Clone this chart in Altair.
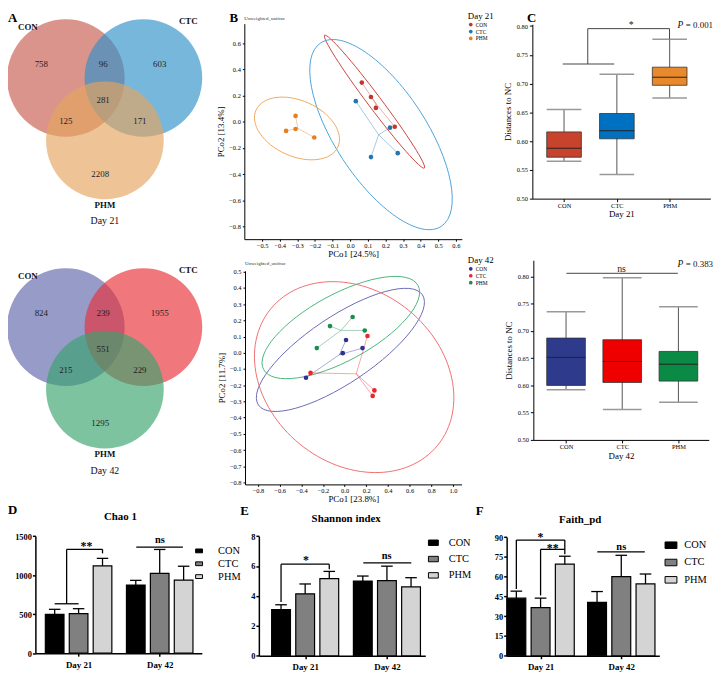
import altair as alt
import pandas as pd

OFF = 8            # page margin: reference pixel -> chart pixel
W, H = 714, 670
FONT = "Liberation Serif"


def cx(v):
    return v - OFF


# =========================== DATA ===========================
groups = ["CON", "CTC", "PHM"]
days = ["Day 21", "Day 42"]

# A - Venn diagrams (OTU counts per region)
venn_regions = ["CON", "CON&CTC", "CTC", "CON&CTC&PHM", "CON&PHM", "CTC&PHM", "PHM"]
venn21_counts = [758, 96, 603, 281, 125, 171, 2208]
venn42_counts = [824, 239, 1955, 551, 215, 229, 1295]

# B - PCoA of unweighted UniFrac
pcoa_group = ["CON"] * 4 + ["CTC"] * 4 + ["PHM"] * 4
pcoa21_pc1 = [0.066, 0.118, 0.146, 0.253, 0.032, 0.226, 0.270, 0.118, -0.310, -0.310, -0.364, -0.204]
pcoa21_pc2 = [0.300, 0.190, 0.106, -0.038, 0.158, -0.045, -0.240, -0.270, 0.045, -0.055, -0.070, -0.120]
pcoa42_pc1 = [0.013, -0.017, 0.165, -0.357, 0.211, -0.315, 0.275, 0.259, 0.074, -0.135, 0.186, -0.257]
pcoa42_pc2 = [0.079, -0.002, 0.029, -0.154, 0.104, -0.124, -0.232, -0.266, 0.221, 0.165, 0.138, 0.029]
ell21_pc1 = [0.138, 0.175, -0.302]
ell21_pc2 = [0.154, -0.098, -0.051]
ell42_pc1 = [-0.039, 0.088, -0.035]
ell42_pc2 = [0.018, -0.150, 0.156]
pcoa21_xticks = [-0.5, -0.4, -0.3, -0.2, -0.1, 0.0, 0.1, 0.2, 0.3, 0.4, 0.5, 0.6]
pcoa21_yticks = [-0.8, -0.6, -0.4, -0.2, 0.0, 0.2, 0.4, 0.6]
pcoa42_xticks = [-0.8, -0.6, -0.4, -0.2, 0.0, 0.2, 0.4, 0.6, 0.8, 1.0]
pcoa42_yticks = [-0.8, -0.7, -0.6, -0.5, -0.4, -0.3, -0.2, -0.1, 0.0, 0.1, 0.2, 0.3, 0.4, 0.5]

# C - distances to NC (box statistics)
d21_min = [0.565, 0.542, 0.675]
d21_q1 = [0.572, 0.604, 0.697]
d21_med = [0.5876, 0.618, 0.711]
d21_q3 = [0.616, 0.648, 0.7285]
d21_max = [0.655, 0.716, 0.777]
d42_min = [0.592, 0.556, 0.569]
d42_q1 = [0.600, 0.6056, 0.608]
d42_med = [0.6516, 0.644, 0.639]
d42_q3 = [0.687, 0.684, 0.6625]
d42_max = [0.7355, 0.7977, 0.7446]
dist_yticks = [0.50, 0.55, 0.60, 0.65, 0.70, 0.75, 0.80]
p21_text = "= 0.001"
p42_text = "= 0.383"

# D-F - alpha diversity (mean, SD), order: Day21 CON/CTC/PHM, Day42 CON/CTC/PHM
chao1_mean = [498, 506, 1119, 873, 1022, 937]
chao1_sd = [64, 64, 96, 60, 307, 177]
shannon_mean = [3.08, 4.14, 5.16, 5.00, 5.02, 4.60]
shannon_sd = [0.33, 0.66, 0.48, 0.33, 0.97, 0.62]
faith_mean = [43.7, 36.5, 69.5, 40.5, 60.0, 54.5]
faith_sd = [5.3, 7.2, 6.0, 8.2, 16.2, 7.5]
chao1_yticks = [0, 500, 1000, 1500]
shannon_yticks = [0, 2, 4, 6, 8]
faith_yticks = [0, 15, 30, 45, 60, 75, 90]

# ========================= LAYOUT / STYLE =========================
venn21_colors = ["#C85B4E", "#3091C9", "#E5A55E"]
venn42_colors = ["#5E66AB", "#E83037", "#37A36D"]
venn_circle_u = [-0.67, 0.66, 0.0]
venn_circle_v = [0.0, 0.0, -1.07]
venn_num_u = [-1.09, -0.03, 0.94, -0.03, -0.67, 0.60, -0.08]
venn_num_v = [0.24, 0.24, 0.24, -0.37, -0.73, -0.73, -1.64]
venn_name_u = [-1.32, 1.43, 0.0]
venn_name_v = [0.88, 0.98, -2.17]

pcoa21_colors = ["#C0392B", "#1F78B4", "#E67E22"]
pcoa21_ell_colors = ["#C9423A", "#4DA3D8", "#F0A860"]
pcoa42_colors = ["#2E3192", "#E8262B", "#1E8C4E"]
pcoa42_ell_colors = ["#6A6AB8", "#F06B6E", "#4DB57C"]
ell21_a = [84, 111, 45.4]
ell21_b = [6.7, 46, 28.2]
ell21_ang = [53.1, 56.7, 24.1]
ell42_a = [99.9, 109, 88.9]
ell42_b = [33.5, 87.2, 33.5]
ell42_ang = [326.1, 39.3, 331.4]

box21_colors = ["#C8432B", "#0070C0", "#E8892B"]
box42_colors = ["#2E3A8C", "#EE0000", "#0A8A45"]
bar_colors = ["#000000", "#808080", "#D4D4D4"]


def S(domain, rng):
    return alt.Scale(domain=list(domain), range=list(rng), nice=False, zero=False)


def yaxis(x0, **kw):
    a = dict(orient="left", offset=-x0, grid=False, domainColor="black", tickColor="black",
             labelColor="black", titleColor="black", labelFont=FONT, titleFont=FONT,
             titleFontWeight="normal", domainWidth=1, tickWidth=1)
    a.update(kw)
    return alt.Axis(**a)


def xaxis(y0, **kw):
    a = dict(orient="bottom", offset=y0 - H, grid=False, domainColor="black", tickColor="black",
             labelColor="black", titleColor="black", labelFont=FONT, titleFont=FONT,
             titleFontWeight="normal", domainWidth=1, tickWidth=1)
    a.update(kw)
    return alt.Axis(**a)


def ellipse_path(r):
    return f"M -1 0 A 1 {r:.4f} 0 1 1 1 0 A 1 {r:.4f} 0 1 1 -1 0 Z"


# ----------------------------- A -----------------------------
def venn(counts, colors, day, dy):
    xs = S([-2, 2], [cx(106 - 118), cx(106 + 118)])
    ys = S([-2.6, 1.2], [cx(75 + 2.6 * 59) + dy, cx(75 - 1.2 * 59) + dy])
    X = alt.X("u:Q", scale=xs, axis=None)
    Y = alt.Y("v:Q", scale=ys, axis=None)
    circ = pd.DataFrame({"set": groups, "u": venn_circle_u, "v": venn_circle_v})
    l1 = alt.Chart(circ).mark_circle(size=14161, opacity=0.65).encode(
        x=X, y=Y, color=alt.Color("set:N", scale=alt.Scale(domain=groups, range=colors), legend=None))
    nums = pd.DataFrame({"region": venn_regions, "n": counts, "u": venn_num_u, "v": venn_num_v})
    l2 = alt.Chart(nums).mark_text(font=FONT, fontSize=9, color="#222").encode(x=X, y=Y, text="n:Q")
    names = pd.DataFrame({"name": groups, "u": venn_name_u, "v": venn_name_v})
    l3 = alt.Chart(names).mark_text(font=FONT, fontSize=9, fontWeight="bold", color="#111").encode(
        x=X, y=Y, text="name:N")
    dd = pd.DataFrame({"name": [day], "u": [0.0], "v": [-2.46]})
    l4 = alt.Chart(dd).mark_text(font=FONT, fontSize=10, color="#111").encode(x=X, y=Y, text="name:N")
    return [l1, l2, l3, l4]


# ----------------------------- B -----------------------------
def pcoa(pc1, pc2, ecx, ecy, ea, eb, eang, colors, ecolors, xdom, xr, ydom, yr, xt, yt,
         xtitle, ytitle, day, legxy, sub_y):
    xs, ys = S(xdom, xr), S(ydom, yr)
    pts = pd.DataFrame({"grp": pcoa_group, "pc1": pc1, "pc2": pc2})
    cscale = alt.Scale(domain=groups, range=colors)
    ell = pd.DataFrame({"grp": groups, "cx": ecx, "cy": ecy,
                        "size": [(2 * a) ** 2 for a in ea],
                        "shape": [ellipse_path(b / a) for a, b in zip(ea, eb)],
                        "angle": eang})
    l_ell = alt.Chart(ell).mark_point(filled=False, opacity=1, strokeWidth=0.9).encode(
        x=alt.X("cx:Q", scale=xs, axis=None), y=alt.Y("cy:Q", scale=ys, axis=None),
        color=alt.Color("grp:N", scale=alt.Scale(domain=groups, range=ecolors), legend=None),
        size=alt.Size("size:Q", scale=None), shape=alt.Shape("shape:N", scale=None),
        angle=alt.Angle("angle:Q", scale=None))
    l_star = alt.Chart(pts).transform_joinaggregate(
        mx="mean(pc1)", my="mean(pc2)", groupby=["grp"]
    ).mark_rule(strokeWidth=0.8, opacity=0.5).encode(
        x=alt.X("pc1:Q", scale=xs, axis=None), y=alt.Y("pc2:Q", scale=ys, axis=None),
        x2=alt.X2("mx"), y2=alt.Y2("my"),
        color=alt.Color("grp:N", scale=cscale, legend=None))
    l_pts = alt.Chart(pts).mark_circle(size=22, opacity=1).encode(
        x=alt.X("pc1:Q", scale=xs, axis=xaxis(yr[0], values=xt, format=".1f", labelFontSize=6.5,
                                                 tickSize=2, labelPadding=1, title=xtitle,
                                                 titleFontSize=9, titlePadding=1)),
        y=alt.Y("pc2:Q", scale=ys, axis=yaxis(xr[0], values=yt, format=".1f", labelFontSize=6.5,
                                                 tickSize=2, labelPadding=2, title=ytitle,
                                                 titleFontSize=9, titlePadding=3)),
        color=alt.Color("grp:N", scale=cscale,
                        legend=alt.Legend(title=day, orient="none", legendX=legxy[0], legendY=legxy[1],
                                          titleFont=FONT, titleFontSize=9, titleFontWeight="normal",
                                          labelFont=FONT, labelFontSize=5.5, symbolSize=14,
                                          symbolType="circle", rowPadding=-0.5, titlePadding=1,
                                          labelOffset=2, padding=0)))
    sub = pd.DataFrame({"t": ["Unweighted_unifrac"], "x": [xdom[0]], "y": [sub_y]})
    l_sub = alt.Chart(sub).mark_text(font=FONT, fontSize=5, align="left", baseline="bottom",
                                     color="#333").encode(
        x=alt.X("x:Q", scale=xs, axis=None), y=alt.Y("y:Q", scale=ys, axis=None), text="t:N")
    return [l_ell, l_star, l_pts, l_sub]


# ----------------------------- C -----------------------------
def boxes(mins, q1, med, q3, maxs, colors, hw, xdom, xr, ydom, yr, xtitle, segs, marks, ptxt, py):
    xs, ys = S(xdom, xr), S(ydom, yr)
    df = pd.DataFrame({"grp": groups, "idx": [1, 2, 3], "mn": mins, "q1": q1, "med": med,
                       "q3": q3, "mx": maxs})
    df["l"] = df["idx"] - hw
    df["r"] = df["idx"] + hw
    XN = dict(scale=xs, axis=None)
    YN = dict(scale=ys, axis=None)
    w1 = alt.Chart(df).mark_rule(color="#555", strokeWidth=1).encode(
        x=alt.X("idx:Q", **XN), y=alt.Y("mn:Q", **YN), y2=alt.Y2("mx"))
    cap1 = alt.Chart(df).mark_rule(color="#999", strokeWidth=1.5).encode(
        x=alt.X("l:Q", **XN), x2=alt.X2("r"), y=alt.Y("mn:Q", **YN))
    cap2 = alt.Chart(df).mark_rule(color="#999", strokeWidth=1.5).encode(
        x=alt.X("l:Q", **XN), x2=alt.X2("r"), y=alt.Y("mx:Q", **YN))
    box = alt.Chart(df).mark_rect(stroke="#333", strokeWidth=0.8).encode(
        x=alt.X("l:Q", scale=xs,
                axis=xaxis(yr[0], values=[1, 2, 3],
                           labelExpr="datum.value == 1 ? 'CON' : datum.value == 2 ? 'CTC' : 'PHM'",
                           labelFontSize=6.5, tickSize=3, labelPadding=1, title=xtitle,
                           titleFontSize=9, titlePadding=1)),
        x2=alt.X2("r"),
        y=alt.Y("q1:Q", scale=ys, axis=yaxis(xr[0], values=dist_yticks, format=".2f",
                                                labelFontSize=6.5, tickSize=3, labelPadding=2,
                                                title="Distances to NC", titleFontSize=9,
                                                titlePadding=4)),
        y2=alt.Y2("q3"),
        color=alt.Color("grp:N", scale=alt.Scale(domain=groups, range=colors), legend=None))
    medl = alt.Chart(df).mark_rule(color="#222", strokeWidth=1).encode(
        x=alt.X("l:Q", **XN), x2=alt.X2("r"), y=alt.Y("med:Q", **YN))
    sg = pd.DataFrame(segs, columns=["x", "y", "x2", "y2"])
    br = alt.Chart(sg).mark_rule(color="#444", strokeWidth=1).encode(
        x=alt.X("x:Q", **XN), y=alt.Y("y:Q", **YN), x2=alt.X2("x2"), y2=alt.Y2("y2"))
    mk = pd.DataFrame(marks, columns=["t", "x", "y", "dy"])
    lm = alt.Chart(mk).mark_text(font=FONT, fontSize=10, baseline="middle", color="#222").encode(
        x=alt.X("x:Q", **XN), y=alt.Y("y:Q", **YN), text="t:N")
    pv = pd.DataFrame({"t": [ptxt], "y": [py]})
    lp1 = alt.Chart(pv).mark_text(font=FONT, fontSize=9, align="right", baseline="middle",
                                  color="#111").encode(
        x=alt.value(cx(721)), y=alt.Y("y:Q", **YN), text="t:N")
    lp2 = alt.Chart(pv).mark_text(font=FONT, fontSize=9.5, fontStyle="italic", align="right",
                                  baseline="middle", color="#111").encode(
        x=alt.value(cx(691)), y=alt.Y("y:Q", **YN), text=alt.value("P"))
    return [w1, cap1, cap2, box, medl, br, lm, lp1, lp2]


# ----------------------------- D-F -----------------------------
def bars(means, sds, gap, xdom, xr, ydom, yr, yt, leg, segs, marks):
    xs, ys = S(xdom, xr), S(ydom, yr)
    rows = []
    for di, d in enumerate(days):
        for gi, g in enumerate(groups):
            k = di * 3 + gi
            rows.append({"day": d, "grp": g, "mean": means[k], "sd": sds[k], "pos": di * gap + gi})
    df = pd.DataFrame(rows)
    df["l"] = df["pos"] - 0.39
    df["r"] = df["pos"] + 0.39
    df["cl"] = df["pos"] - 0.24
    df["cr"] = df["pos"] + 0.24
    df["top"] = df["mean"] + df["sd"]
    df["zero"] = 0
    XN = dict(scale=xs, axis=None)
    YN = dict(scale=ys, axis=None)
    err = alt.Chart(df).mark_rule(color="black", strokeWidth=1.3).encode(
        x=alt.X("pos:Q", **XN), y=alt.Y("mean:Q", **YN), y2=alt.Y2("top"))
    cap = alt.Chart(df).mark_rule(color="black", strokeWidth=1.3).encode(
        x=alt.X("cl:Q", **XN), x2=alt.X2("cr"), y=alt.Y("top:Q", **YN))
    bar = alt.Chart(df).mark_rect(stroke="black", strokeWidth=1.2).encode(
        x=alt.X("l:Q", scale=xs,
                axis=xaxis(yr[0], values=[1, 1 + gap],
                           labelExpr="datum.value < 2 ? 'Day 21' : 'Day 42'",
                           labelFontSize=9, labelFontWeight="bold", tickSize=3, labelPadding=4,
                           title=None, domainWidth=1.5, tickWidth=1.5)),
        x2=alt.X2("r"),
        y=alt.Y("mean:Q", scale=ys,
                axis=yaxis(xr[0], values=yt, format="d", labelFontSize=8.5, labelFontWeight="bold",
                           tickSize=3, labelPadding=1, title=None, domainWidth=1.5, tickWidth=1.5)),
        y2=alt.Y2("zero"),
        color=alt.Color("grp:N", scale=alt.Scale(domain=groups, range=bar_colors),
                        legend=alt.Legend(title=None, orient="none", legendX=leg[0], legendY=leg[1],
                                          labelFont=FONT, labelFontSize=10.5, labelColor="black",
                                          symbolType="M -1 -0.55 H 1 V 0.55 H -1 Z",
                                          symbolSize=leg[2], symbolStrokeColor="black",
                                          symbolStrokeWidth=1, rowPadding=leg[3],
                                          labelOffset=leg[4], padding=0)))
    sg = pd.DataFrame(segs, columns=["x", "y", "x2", "y2"])
    br = alt.Chart(sg).mark_rule(color="black", strokeWidth=1.3).encode(
        x=alt.X("x:Q", **XN), y=alt.Y("y:Q", **YN), x2=alt.X2("x2"), y2=alt.Y2("y2"))
    mk = pd.DataFrame(marks, columns=["t", "x", "y", "dy"])
    stars = mk[mk["t"] != "ns"]
    nss = mk[mk["t"] == "ns"]
    ls = alt.Chart(stars).mark_text(font=FONT, fontSize=12, fontWeight="bold", baseline="middle",
                                    dy=3, color="black").encode(
        x=alt.X("x:Q", **XN), y=alt.Y("y:Q", **YN), text="t:N")
    ln = alt.Chart(nss).mark_text(font=FONT, fontSize=10.5, fontWeight="bold", baseline="middle",
                                  color="black").encode(
        x=alt.X("x:Q", **XN), y=alt.Y("y:Q", **YN), text="t:N")
    return [bar, err, cap, br, ls, ln]


layers = []
layers += venn(venn21_counts, venn21_colors, "Day 21", 0)
layers += venn(venn42_counts, venn42_colors, "Day 42", 252)

layers += pcoa(pcoa21_pc1, pcoa21_pc2, ell21_pc1, ell21_pc2, ell21_a, ell21_b, ell21_ang,
               pcoa21_colors, pcoa21_ell_colors, [-0.601, 0.634], [cx(247), cx(467)],
               [-0.898, 0.751], [cx(238), cx(20)], pcoa21_xticks, pcoa21_yticks,
               "PCo1 [24.5%]", "PCo2 [13.4%]", "Day 21", [cx(473), cx(8)], 0.772)
layers += pcoa(pcoa42_pc1, pcoa42_pc2, ell42_pc1, ell42_pc2, ell42_a, ell42_b, ell42_ang,
               pcoa42_colors, pcoa42_ell_colors, [-0.92, 1.08], [cx(247.7), cx(466.7)],
               [-0.812, 0.506], [cx(486), cx(270)], pcoa42_xticks, pcoa42_yticks,
               "PCo1 [23.8%]", "PCo2 [11.7%]", "Day 42", [cx(473), cx(255)], 0.537)

layers += boxes(d21_min, d21_q1, d21_med, d21_q3, d21_max, box21_colors, 0.328,
                [0.4, 3.77], [cx(538.3), cx(718.3)], [0.5, 0.803], [cx(197), cx(20.7)], "Day 21",
                [(0.975, 0.734, 1.95, 0.734), (1.449, 0.734, 1.449, 0.7955),
                 (1.449, 0.7955, 2.997, 0.7955), (2.997, 0.7955, 2.997, 0.777)],
                [("*", 2.27, 0.801, 0)], p21_text, 0.801)
layers += boxes(d42_min, d42_q1, d42_med, d42_q3, d42_max, box42_colors, 0.344,
                [0.418, 3.54], [cx(539.3), cx(716.7)], [0.5, 0.83], [cx(441), cx(259.3)], "Day 42",
                [(1.007, 0.806, 2.99, 0.806)],
                [("ns", 1.988, 0.8147, 0)], p42_text, 0.8225)

layers += bars(chao1_mean, chao1_sd, 3.39, [-0.806, 6.15], [cx(35.7), cx(204)], [0, 1500],
               [cx(656.7), cx(538.3)], chao1_yticks, [cx(196), cx(548), 49, 2, 14],
               [(0.0, 633, 1.0, 633), (0.5, 633, 0.5, 1330), (0.5, 1330, 2.0, 1330),
                (2.0, 1330, 2.0, 1279), (3.41, 1360, 5.36, 1360)],
               [("**", 1.33, 1415, 0), ("ns", 4.4, 1449, 0)])
layers += bars(shannon_mean, shannon_sd, 3.39, [-0.92, 5.98], [cx(261.7), cx(430)], [0, 8],
               [cx(659.3), cx(538.3)], shannon_yticks, [cx(432.7), cx(539.5), 100, 5.5, 10],
               [(0.0, 3.59, 0.0, 6.12), (0.0, 6.12, 2.0, 6.12), (2.0, 6.12, 2.0, 5.79),
                (3.41, 6.21, 5.40, 6.21)],
               [("*", 1.03, 6.57, 0), ("ns", 4.38, 6.68, 0)])
layers += bars(faith_mean, faith_sd, 3.33, [-0.40, 5.9], [cx(512.3), cx(666.7)], [0, 90],
               [cx(659.3), cx(539.3)], faith_yticks, [cx(672), cx(541), 144, 5.5, 7],
               [(0.0, 50.7, 0.0, 87.75), (0.0, 87.75, 2.0, 87.75), (2.0, 87.75, 2.0, 77.0),
                (1.0, 45.75, 1.0, 80.7), (1.0, 80.7, 2.0, 80.7), (3.34, 78.75, 5.3, 78.75)],
               [("*", 1.0, 92.0, 0), ("**", 1.5, 84.0, 0), ("ns", 4.33, 82.5, 0)])

# panel letters and bar-chart titles
letters = pd.DataFrame({"t": ["A", "B", "C"], "x": [0, cx(232), cx(533)], "y": [0, 0, 0]})
layers.append(alt.Chart(letters).mark_text(font=FONT, fontSize=13, fontWeight="bold", align="left",
                                           baseline="top", color="black").encode(
    x=alt.X("x:Q", scale=None, axis=None), y=alt.Y("y:Q", scale=None, axis=None), text="t:N"))
letters2 = pd.DataFrame({"t": ["D", "E", "F"], "x": [0, cx(243), cx(481)],
                         "y": [cx(511.7), cx(513.3), cx(513.3)]})
layers.append(alt.Chart(letters2).mark_text(font=FONT, fontSize=13, fontWeight="bold", align="left",
                                            baseline="middle", color="black").encode(
    x=alt.X("x:Q", scale=None, axis=None), y=alt.Y("y:Q", scale=None, axis=None), text="t:N"))
titles = pd.DataFrame({"t": ["Chao 1", "Shannon index", "Faith_pd"],
                       "x": [cx(121.7), cx(350), cx(586.7)],
                       "y": [cx(519.3), cx(520.7), cx(521.7)]})
layers.append(alt.Chart(titles).mark_text(font=FONT, fontSize=11, fontWeight="bold",
                                          baseline="middle", color="black").encode(
    x=alt.X("x:Q", scale=None, axis=None), y=alt.Y("y:Q", scale=None, axis=None), text="t:N"))

chart = alt.layer(*layers).resolve_scale(
    x="independent", y="independent", color="independent"
).resolve_axis(x="independent", y="independent").resolve_legend(color="independent").properties(
    width=W, height=H, padding=0, autosize=alt.AutoSizeParams(type="none")
).configure_view(stroke=None)

chart.save("out.html", embed_options={"renderer": "svg", "actions": False})
